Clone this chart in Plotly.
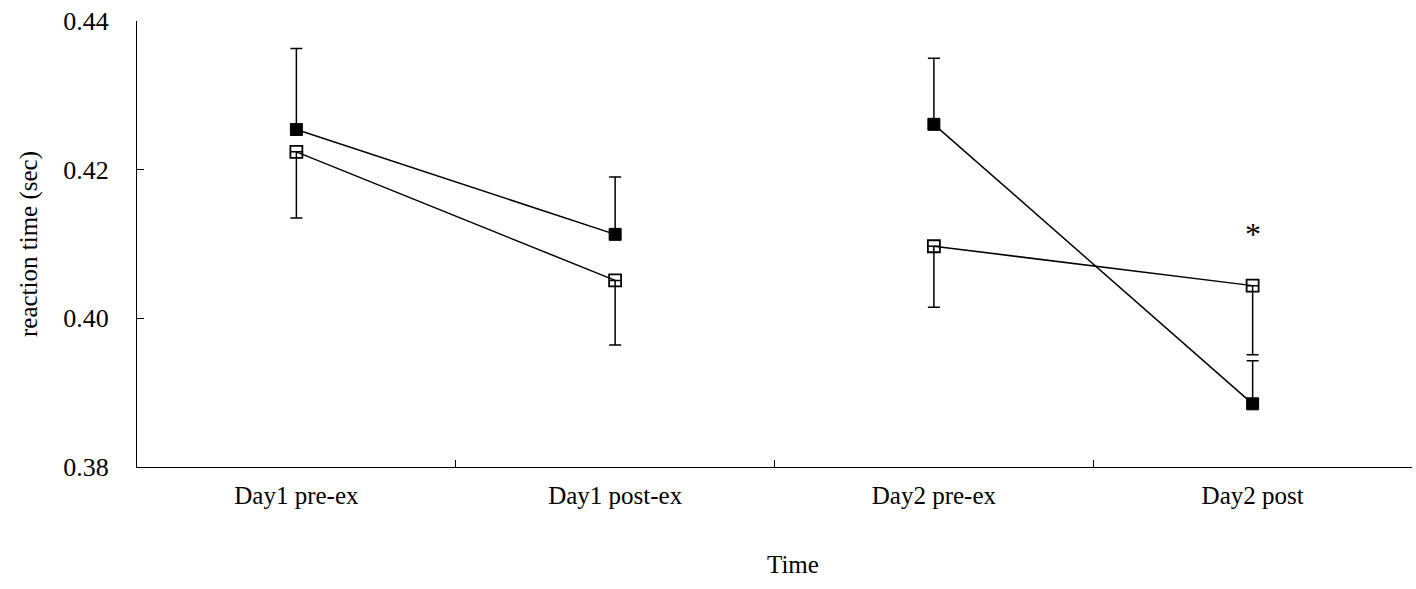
import plotly.graph_objects as go

# Measurement times, grouped by day (lines are drawn within a day only)
times = ["Day1 pre-ex", "Day1 post-ex", "Day2 pre-ex", "Day2 post"]
day_groups = [[0, 1], [2, 3]]

# Group A (filled squares): mean reaction time and upward SD
group_a = [0.4254, 0.4113, 0.4261, 0.3885]
group_a_sd = [0.0109, 0.0077, 0.0089, 0.0058]

# Group B (open squares): mean reaction time and downward SD
group_b = [0.4224, 0.4051, 0.4097, 0.4044]
group_b_sd = [0.0089, 0.0087, 0.0082, 0.0093]

# Significance marker
star_time = "Day2 post"
star_value = 0.4117

y_ticks = [0.38, 0.40, 0.42, 0.44]

FONT = "Liberation Serif, Times New Roman, serif"

fig = go.Figure()

for idx in day_groups:
    xs = [times[i] for i in idx]
    # open squares, error bars pointing down
    fig.add_trace(go.Scatter(
        x=xs, y=[group_b[i] for i in idx], mode="lines+markers",
        line=dict(color="black", width=1.5),
        marker=dict(symbol="square-open", size=12, color="black",
                    line=dict(color="black", width=1.8)),
        error_y=dict(type="data", symmetric=False, array=[0] * len(idx),
                     arrayminus=[group_b_sd[i] for i in idx],
                     color="black", thickness=1.5, width=6),
        showlegend=False,
    ))
    # filled squares, error bars pointing up
    fig.add_trace(go.Scatter(
        x=xs, y=[group_a[i] for i in idx], mode="lines+markers",
        line=dict(color="black", width=1.5),
        marker=dict(symbol="square", size=12, color="black",
                    line=dict(color="black", width=1)),
        error_y=dict(type="data", symmetric=False,
                     array=[group_a_sd[i] for i in idx],
                     arrayminus=[0] * len(idx),
                     color="black", thickness=1.5, width=6),
        showlegend=False,
    ))

fig.add_annotation(x=star_time, y=star_value, text="*", showarrow=False,
                   yshift=-3, font=dict(family=FONT, size=32, color="black"))

# x-axis title placed under the category labels
plot_left, plot_right, plot_top, plot_bottom = 137, 1412, 21, 467
fig.add_annotation(
    x=(793 - plot_left) / (plot_right - plot_left), xref="paper",
    y=(plot_bottom - 580) / (plot_bottom - plot_top), yref="paper",
    text="Time", showarrow=False,
    font=dict(family=FONT, size=25, color="black"),
)

fig.update_layout(
    width=1416, height=589,
    margin=dict(l=plot_left, r=1416 - plot_right, t=plot_top, b=589 - plot_bottom),
    plot_bgcolor="white", paper_bgcolor="white",
    font=dict(family=FONT, size=25, color="black"),
)

fig.update_xaxes(
    type="category", categoryorder="array", categoryarray=times,
    range=[-0.5, 3.5], tickson="boundaries",
    ticks="inside", ticklen=7, tickcolor="black", tickwidth=1,
    showline=True, linecolor="black", linewidth=1,
    showgrid=False, zeroline=False,
    tickfont=dict(family=FONT, size=25, color="black"),
    ticklabelstandoff=6,
)
fig.update_yaxes(
    range=[0.38, 0.44], tickvals=y_ticks, tickformat=".2f",
    ticks="inside", ticklen=7, tickcolor="black", tickwidth=1,
    showline=True, linecolor="black", linewidth=1,
    showgrid=False, zeroline=False,
    tickfont=dict(family=FONT, size=26, color="black"),
    ticklabelstandoff=22,
    title=dict(text="reaction time (sec)", standoff=18,
               font=dict(family=FONT, size=25, color="black")),
)

fig.write_html("out.html")
